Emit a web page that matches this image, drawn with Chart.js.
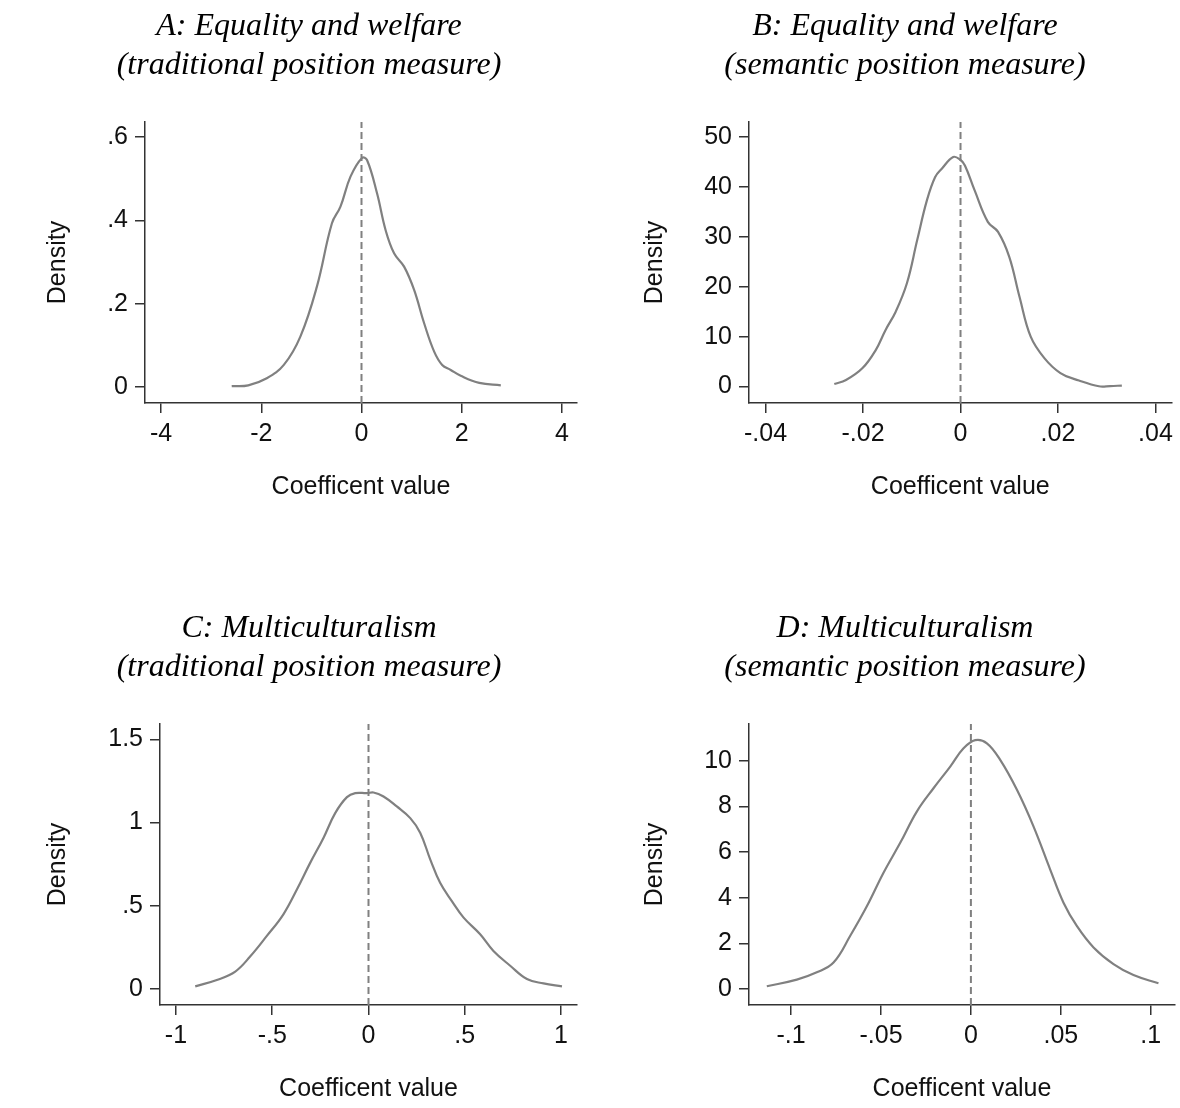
<!DOCTYPE html>
<html>
<head>
<meta charset="utf-8">
<script src="https://cdn.jsdelivr.net/npm/chart.js@4"></script>
<style>
  body { margin: 0; background: #fff; width: 1180px; height: 1108px; overflow: hidden; position: relative; }
  .panel { position: absolute; }
</style>
</head>
<body>
<div class="panel" id="panelA"><canvas id="chartA"></canvas></div>
<div class="panel" id="panelB"><canvas id="chartB"></canvas></div>
<div class="panel" id="panelC"><canvas id="chartC"></canvas></div>
<div class="panel" id="panelD"><canvas id="chartD"></canvas></div>
<script>
// A: Equality and welfare, traditional measure
const titleA = ["A: Equality and welfare", "(traditional position measure)"];
const coefA = [-2.59, -2.26, -1.89, -1.55, -1.22, -0.89, -0.59, -0.42, -0.22, 0.01, 0.11, 0.31, 0.48, 0.65, 0.85, 1.05, 1.25, 1.45, 1.61, 1.78, 1.98, 2.35, 2.78];
const densA = [0.002, 0.004, 0.021, 0.053, 0.121, 0.241, 0.393, 0.433, 0.505, 0.55, 0.545, 0.465, 0.377, 0.321, 0.289, 0.233, 0.153, 0.085, 0.053, 0.041, 0.027, 0.01, 0.004];
const xTicksA = [-4, -2, 0, 2, 4];
const yTicksA = [0, 0.2, 0.4, 0.6];
const xRangeA = [-4.32, 4.3];
const yRangeA = [-0.0384, 0.636];

// B: Equality and welfare, semantic measure
const titleB = ["B: Equality and welfare", "(semantic position measure)"];
const coefB = [-0.0259, -0.0235, -0.0201, -0.0174, -0.0154, -0.0133, -0.011, -0.0089, -0.0069, -0.0052, -0.0038, -0.0015, -0.0001, 0.0009, 0.0029, 0.0056, 0.0077, 0.01, 0.0121, 0.0144, 0.0172, 0.0205, 0.0243, 0.0284, 0.0307, 0.0331];
const densB = [0.5, 1.3, 3.7, 7.3, 11.3, 15.0, 20.7, 29.3, 37.3, 42.0, 43.7, 46.0, 45.5, 44.3, 39.3, 33.0, 31.0, 26.0, 18.0, 10.0, 5.7, 2.7, 1.2, 0.05, 0.1, 0.2];
const xTicksB = [-0.04, -0.02, 0, 0.02, 0.04];
const yTicksB = [0, 10, 20, 30, 40, 50];
const xRangeB = [-0.0434, 0.0433];
const yRangeB = [-3.3, 53];

// C: Multiculturalism, traditional measure
const titleC = ["C: Multiculturalism", "(traditional position measure)"];
const coefC = [-0.9, -0.788, -0.692, -0.615, -0.528, -0.442, -0.372, -0.303, -0.234, -0.173, -0.112, -0.069, -0.008, 0.026, 0.078, 0.147, 0.217, 0.269, 0.321, 0.372, 0.433, 0.494, 0.58, 0.649, 0.736, 0.823, 0.909, 1.005];
const densC = [0.016, 0.054, 0.105, 0.195, 0.319, 0.449, 0.598, 0.758, 0.908, 1.057, 1.153, 1.177, 1.177, 1.181, 1.157, 1.097, 1.027, 0.938, 0.778, 0.638, 0.528, 0.429, 0.329, 0.229, 0.14, 0.06, 0.034, 0.016];
const xTicksC = [-1, -0.5, 0, 0.5, 1];
const yTicksC = [0, 0.5, 1, 1.5];
const xRangeC = [-1.083, 1.083];
const yRangeC = [-0.096, 1.592];

// D: Multiculturalism, semantic measure
const titleD = ["D: Multiculturalism", "(semantic position measure)"];
const coefD = [-0.1135, -0.0968, -0.0857, -0.0764, -0.0671, -0.0578, -0.0486, -0.0393, -0.03, -0.0208, -0.0115, -0.0041, 0.0024, 0.0089, 0.0163, 0.0256, 0.0348, 0.0441, 0.0515, 0.0589, 0.0682, 0.0793, 0.0904, 0.1043];
const densD = [0.12, 0.41, 0.73, 1.16, 2.33, 3.63, 5.09, 6.4, 7.78, 8.79, 9.74, 10.54, 10.9, 10.76, 10.03, 8.72, 7.12, 5.23, 3.78, 2.76, 1.82, 1.09, 0.61, 0.25];
const xTicksD = [-0.1, -0.05, 0, 0.05, 0.1];
const yTicksD = [0, 2, 4, 6, 8, 10];
const xRangeD = [-0.1234, 0.1135];
const yRangeD = [-0.7, 11.6];

const refX = 0; // dashed reference line
const xTitle = "Coefficent value";
const yTitle = "Density";

const lineGrey = "#808080";
const axisColor = "#333";
const textColor = "#111";
const sans = "'Liberation Sans', Arial, sans-serif";
const canvasH = 506;

Chart.defaults.font.family = sans;

// stata style labels: .6, -.04
function fmt(v) {
  const s = String(parseFloat(Number(v).toFixed(6)));
  return s.replace(/^(-?)0\./, "$1.");
}

function makePanel(id, box, title, coef, dens, xTicks, yTicks, xRange, yRange) {
  const padR = 4;
  const cw = box.axisRight - box.left + padR;
  const panel = document.getElementById("panel" + id);
  panel.style.left = box.left + "px";
  panel.style.top = box.top + "px";
  const canvas = document.getElementById("chart" + id);
  canvas.width = cw;
  canvas.height = canvasH;
  canvas.style.width = cw + "px";
  canvas.style.height = canvasH + "px";

  const axisBottomRel = 403;
  new Chart(canvas.getContext("2d"), {
    type: "line",
    data: {
      datasets: [
        {
          data: coef.map((x, i) => ({ x: x, y: dens[i] })),
          borderColor: lineGrey,
          borderWidth: 2.2,
          pointRadius: 0,
          tension: 0.4,
          fill: false,
        },
        {
          data: [{ x: refX, y: yRange[0] }, { x: refX, y: yRange[1] }],
          borderColor: lineGrey,
          borderWidth: 2,
          borderDash: [7, 4],
          pointRadius: 0,
          fill: false,
        },
      ],
    },
    options: {
      responsive: false,
      animation: false,
      layout: { padding: { left: 0, right: padR, top: 0, bottom: 0 } },
      plugins: {
        legend: { display: false },
        tooltip: { enabled: false },
        title: {
          display: true,
          text: title,
          color: "#000",
          font: { family: "'Liberation Serif', 'Times New Roman', serif", style: "italic", weight: "normal", size: 32, lineHeight: 1.22 },
          padding: { top: 7.5, bottom: 36.5 },
        },
      },
      scales: {
        x: {
          type: "linear",
          min: xRange[0],
          max: xRange[1],
          afterBuildTicks: (s) => { s.ticks = xTicks.map((v) => ({ value: v })); },
          afterFit: (s) => { s.height = canvasH - axisBottomRel; },
          grid: { drawOnChartArea: false, tickLength: 10, color: axisColor, lineWidth: 1.5 },
          border: { color: axisColor, width: 1.5 },
          ticks: { callback: (v) => fmt(v), color: textColor, font: { size: 25 }, padding: 6, maxRotation: 0, autoSkip: false },
          title: { display: true, text: xTitle, color: textColor, font: { size: 25 }, padding: { top: 0, bottom: 4 } },
        },
        y: {
          type: "linear",
          min: yRange[0],
          max: yRange[1],
          afterBuildTicks: (s) => { s.ticks = yTicks.map((v) => ({ value: v })); },
          afterFit: (s) => { s.width = box.axisLeft - box.left; },
          grid: { drawOnChartArea: false, tickLength: 10, color: axisColor, lineWidth: 1.5 },
          border: { color: axisColor, width: 1.5 },
          ticks: { callback: (v) => fmt(v), color: textColor, font: { size: 25 }, padding: 7, autoSkip: false },
          title: { display: true, text: yTitle, color: textColor, font: { size: 25 }, padding: { top: box.densX - box.left - 15, bottom: 0 } },
        },
      },
    },
  });
}

makePanel("A", { left: 41, top: 0, axisLeft: 145, axisRight: 577, densX: 58 }, titleA, coefA, densA, xTicksA, yTicksA, xRangeA, yRangeA);
makePanel("B", { left: 635, top: 0, axisLeft: 749, axisRight: 1175, densX: 655 }, titleB, coefB, densB, xTicksB, yTicksB, xRangeB, yRangeB);
makePanel("C", { left: 41, top: 602, axisLeft: 160, axisRight: 577, densX: 58 }, titleC, coefC, densC, xTicksC, yTicksC, xRangeC, yRangeC);
makePanel("D", { left: 635, top: 602, axisLeft: 749, axisRight: 1175, densX: 655 }, titleD, coefD, densD, xTicksD, yTicksD, xRangeD, yRangeD);
</script>
</body>
</html>
